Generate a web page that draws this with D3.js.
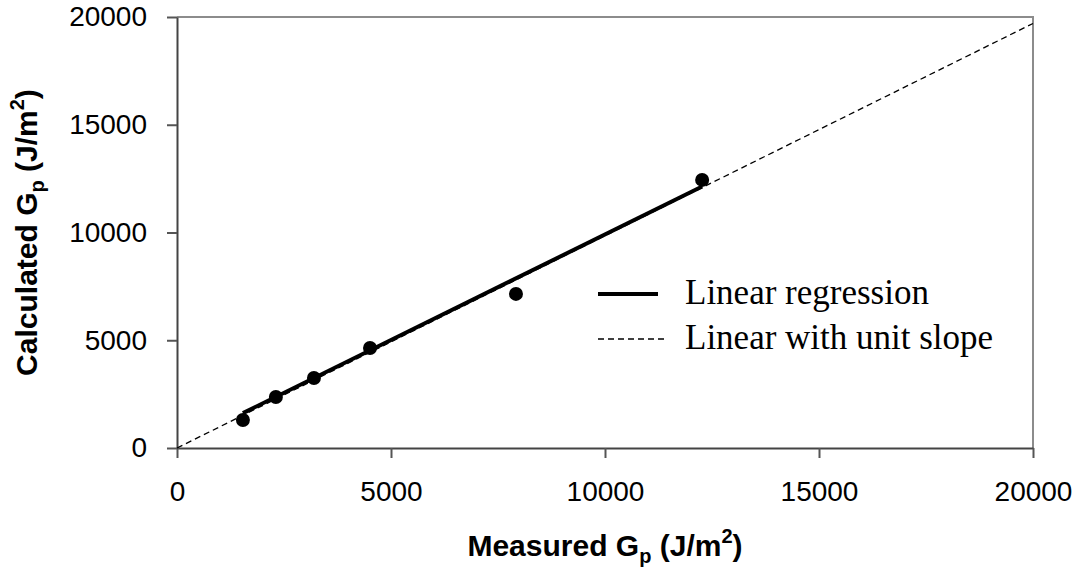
<!DOCTYPE html>
<html>
<head>
<meta charset="utf-8">
<script src="https://cdn.jsdelivr.net/npm/d3@7"></script>
<style>
  html, body { margin: 0; padding: 0; background: #fff; }
  svg { display: block; }
  .tick text { font-family: Arial, "Liberation Sans", sans-serif; font-size: 28px; fill: #000; }
  .axis-title { font-family: Arial, "Liberation Sans", sans-serif; font-size: 30px; font-weight: bold; fill: #000; }
  .legend-text { font-family: "Times New Roman", "Liberation Serif", serif; font-size: 35px; fill: #000; }
</style>
</head>
<body>
<svg id="chart" width="1079" height="574"></svg>
<script>
/* ── Data ─────────────────────────────────────────────────────────────────── */

const measured   = [1540, 2310, 3200, 4510, 7920, 12270];
const calculated = [1300, 2370, 3250, 4640, 7150, 12440];

// regression fit
const fitSlope = 0.98;
const fitIntercept = 110;

// reference line ends (x, y)
const unitX = [0, 20000];
const unitY = [0, 19700];

const tickValues = [0, 5000, 10000, 15000, 20000];
const legendLabels = ["Linear regression", "Linear with unit slope"];

/* ── Layout ───────────────────────────────────────────────────────────────── */

const svg = d3.select("#chart");
const m = { left: 177, right: 1033, top: 17, bottom: 448 };

const x = d3.scaleLinear().domain([0, 20000]).range([m.left, m.right]);
const y = d3.scaleLinear().domain([0, 20000]).range([m.bottom, m.top]);

// plot border (top / right)
svg.append("path")
  .attr("d", `M${m.left},${m.top}H${m.right}V${m.bottom}`)
  .attr("fill", "none")
  .attr("stroke", "#8c8c8c")
  .attr("stroke-width", 2);

// axes
const xAxis = svg.append("g")
  .attr("transform", `translate(0,${m.bottom})`)
  .call(d3.axisBottom(x).tickValues(tickValues).tickFormat(d3.format("d"))
    .tickSize(10).tickSizeOuter(0).tickPadding(23));

const yAxis = svg.append("g")
  .attr("transform", `translate(${m.left},0)`)
  .call(d3.axisLeft(y).tickValues(tickValues).tickFormat(d3.format("d"))
    .tickSize(10).tickSizeOuter(0).tickPadding(20));

[xAxis, yAxis].forEach((g) => {
  g.select(".domain").attr("stroke", "#444").attr("stroke-width", 2);
  g.selectAll(".tick line").attr("stroke", "#555").attr("stroke-width", 2);
  g.attr("font-family", null).attr("font-size", null);
});

/* ── Lines & points ───────────────────────────────────────────────────────── */

const line = d3.line().x((d) => x(d[0])).y((d) => y(d[1]));

svg.append("path")
  .attr("d", line(d3.zip(unitX, unitY)))
  .attr("fill", "none")
  .attr("stroke", "#000")
  .attr("stroke-width", 1.3)
  .attr("stroke-dasharray", "6,4");

const [xMin, xMax] = d3.extent(measured);
svg.append("path")
  .attr("d", line([xMin, xMax].map((v) => [v, fitSlope * v + fitIntercept])))
  .attr("fill", "none")
  .attr("stroke", "#000")
  .attr("stroke-width", 4);

svg.selectAll("circle.pt")
  .data(d3.zip(measured, calculated))
  .join("circle")
  .attr("class", "pt")
  .attr("cx", (d) => x(d[0]))
  .attr("cy", (d) => y(d[1]))
  .attr("r", 7)
  .attr("fill", "#000");

/* ── Axis titles ──────────────────────────────────────────────────────────── */

function addTitle(sel, main) {
  sel.append("tspan").text(main + " G");
  sel.append("tspan").attr("font-size", "20px").attr("dy", 7).text("p");
  sel.append("tspan").attr("dy", -7).text(" (J/m");
  sel.append("tspan").attr("font-size", "20px").attr("dy", -13).text("2");
  sel.append("tspan").attr("dy", 13).text(")");
}

const xt = svg.append("text")
  .attr("class", "axis-title")
  .attr("x", (m.left + m.right) / 2)
  .attr("y", 556)
  .attr("text-anchor", "middle");
addTitle(xt, "Measured");

const yt = svg.append("text")
  .attr("class", "axis-title")
  .attr("transform", `translate(37,${(m.top + m.bottom) / 2}) rotate(-90)`)
  .attr("text-anchor", "middle");
addTitle(yt, "Calculated");

/* ── Legend ───────────────────────────────────────────────────────────────── */

const legend = svg.append("g").attr("transform", "translate(598,0)");
const rowY = [294, 339];

legend.append("line")
  .attr("x1", 0).attr("x2", 60)
  .attr("y1", rowY[0]).attr("y2", rowY[0])
  .attr("stroke", "#000").attr("stroke-width", 4);

legend.append("line")
  .attr("x1", 0).attr("x2", 69)
  .attr("y1", rowY[1]).attr("y2", rowY[1])
  .attr("stroke", "#000").attr("stroke-width", 1.3)
  .attr("stroke-dasharray", "6,4");

legend.selectAll("text.legend-text")
  .data(legendLabels)
  .join("text")
  .attr("class", "legend-text")
  .attr("x", 87)
  .attr("y", (_, i) => rowY[i] + 10)
  .text((d) => d);
</script>
</body>
</html>
